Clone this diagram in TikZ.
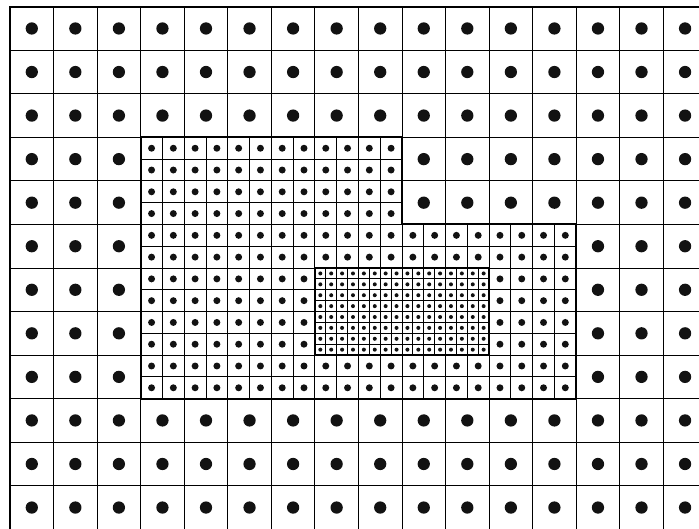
\documentclass[tikz,border=0pt]{standalone}
\usepackage{tikz}
\tikzset{
    cellline/.style={line width=0.6pt,black},
    dotfill/.style={fill=black!93},
    levelline/.style={line width=1.3pt,black}
}
\newcommand{\drawblock}[6]{
    % #1,#2 = lower left corner, #3 x #4 cells, #5 = cell size, #6 = dot radius
    \foreach \i in {1,...,#3} {
        \foreach \j in {1,...,#4} {
            \pgfmathsetmacro \x {#1+(\i-1)*#5}
            \pgfmathsetmacro \y {#2+(\j-1)*#5}
            \draw[cellline] (\x,\y) rectangle ++(#5,#5);
            \fill[dotfill] (\x+#5/2,\y+#5/2) circle (#6);
        }
    }
}

\begin{document}
\begin{tikzpicture}
    \useasboundingbox (-0.23,0.03) rectangle (15.82,12.154);
    \clip (-0.23,0.03) rectangle (15.82,12.154);

    % coarse cells
    \drawblock{0}{9}{16}{3}{1}{0.141}
    \drawblock{0}{0}{16}{3}{1}{0.141}
    \drawblock{0}{3}{3}{6}{1}{0.141}
    \drawblock{9}{7}{7}{2}{1}{0.141}
    \drawblock{13}{3}{3}{4}{1}{0.141}

    % first refinement
    \drawblock{3}{7}{12}{4}{0.5}{0.08}
    \drawblock{3}{6}{20}{2}{0.5}{0.08}
    \drawblock{3}{4}{8}{4}{0.5}{0.08}
    \drawblock{11}{4}{4}{4}{0.5}{0.08}
    \drawblock{3}{3}{20}{2}{0.5}{0.08}

    % second refinement
    \drawblock{7}{4}{16}{8}{0.25}{0.046}

    % level borders
    \draw[levelline] (3,9) -- (9,9) -- (9,7) -- (13,7) -- (13,3) -- (3,3) -- cycle;
    \draw[levelline] (7,4) rectangle (11,6);
    \draw[line width=1.5pt] (0,0) -- (0,12) -- (17,12);

\end{tikzpicture}
\end{document}
